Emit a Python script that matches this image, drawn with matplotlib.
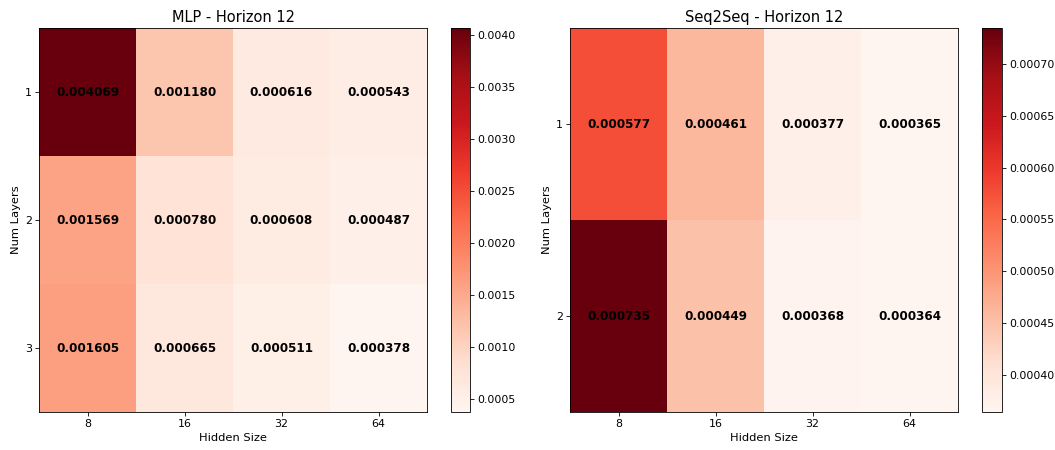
import numpy as np
import matplotlib.pyplot as plt

hidden_sizes = [8, 16, 32, 64]
mlp_layers = [1, 2, 3]
s2s_layers = [1, 2]

mlp_mse = np.array([
    [0.004069, 0.001180, 0.000616, 0.000543],
    [0.001569, 0.000780, 0.000608, 0.000487],
    [0.001605, 0.000665, 0.000511, 0.000378],
])
s2s_mse = np.array([
    [0.000577, 0.000461, 0.000377, 0.000365],
    [0.000735, 0.000449, 0.000368, 0.000364],
])

plt.rcParams['xtick.labelsize'] = 10.5
plt.rcParams['ytick.labelsize'] = 10.5

W, H = 1055, 450
fig = plt.figure(figsize=(W / 75, H / 75), dpi=75)

def box(x0, x1, y0=28, y1=412):
    return [x0 / W, (H - y1) / H, (x1 - x0) / W, (y1 - y0) / H]

panels = [
    (box(39, 427), box(451, 470), mlp_mse, mlp_layers, 'MLP - Horizon 12'),
    (box(570, 958), box(982, 1002), s2s_mse, s2s_layers, 'Seq2Seq - Horizon 12'),
]

for ax_box, cb_box, data, layers, title in panels:
    ax = fig.add_axes(ax_box)
    cax = fig.add_axes(cb_box)
    im = ax.imshow(data, cmap='Reds', aspect='auto')
    fig.colorbar(im, cax=cax)
    ax.set_xticks(range(len(hidden_sizes)))
    ax.set_xticklabels(hidden_sizes)
    ax.set_yticks(range(len(layers)))
    ax.set_yticklabels(layers)
    ax.set_xlabel('Hidden Size', fontsize=11)
    ax.set_ylabel('Num Layers', fontsize=11)
    ax.set_title(title, fontsize=14)
    for i in range(data.shape[0]):
        for j in range(data.shape[1]):
            ax.text(j, i, f'{data[i, j]:.6f}', ha='center', va='center',
                    color='black', fontweight='bold', fontsize=11.5)

fig.savefig('out.png')
